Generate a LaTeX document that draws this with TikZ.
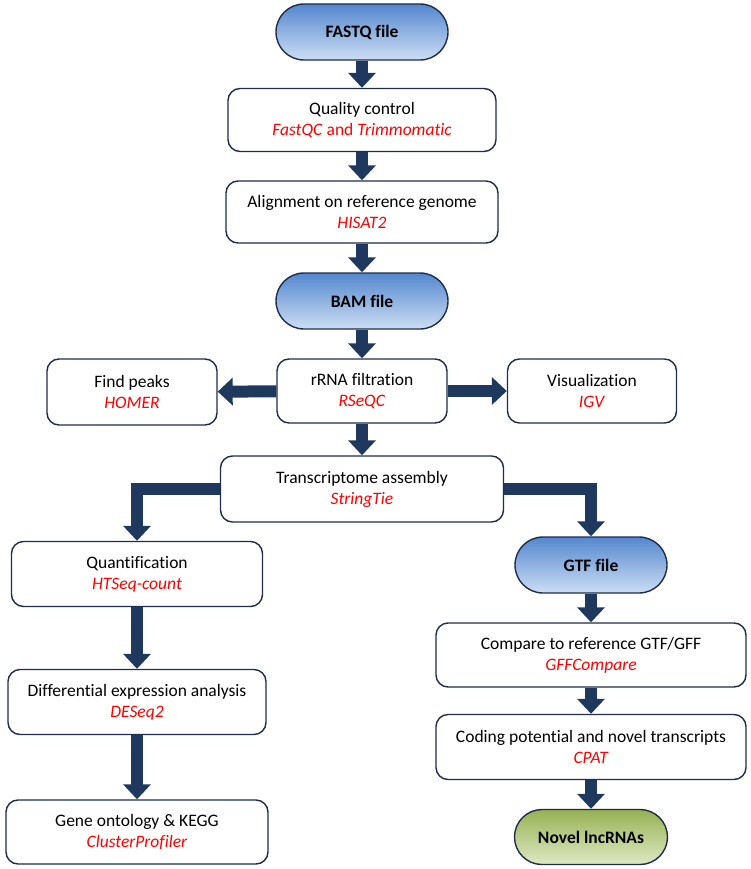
\documentclass[tikz,border=0pt]{standalone}
\usepackage{fontspec}
\setmainfont{Carlito}[Ligatures=NoCommon]
\usetikzlibrary{arrows.meta}
\definecolor{navy}{RGB}{31,56,94}
\definecolor{edge}{RGB}{30,45,75}
\definecolor{pilltop}{RGB}{84,135,206}
\definecolor{pillbot}{RGB}{205,222,244}
\definecolor{greentop}{RGB}{150,178,82}
\definecolor{greenbot}{RGB}{222,232,196}
\definecolor{tool}{RGB}{255,0,0}
\newcommand{\tool}[1]{\textcolor{tool}{\textit{#1}}}
\tikzstyle{task} = [rectangle, rounded corners=12pt, draw=edge, line width=1.4pt, fill=white, align=center, minimum height=64pt, font=\fontsize{17.5}{21}\selectfont]
\tikzstyle{file} = [rectangle, rounded corners=28pt, draw=edge, line width=1.4pt, top color=pilltop, bottom color=pillbot, minimum width=172pt, minimum height=56pt, font=\fontsize{17.5}{21}\selectfont\bfseries]
\tikzstyle{result} = [file, top color=greentop, bottom color=greenbot]
\tikzstyle{arrow} = [line width=12pt, draw=navy, line join=miter, -{Triangle[width=27pt,length=15pt]}]

\begin{document}
\begin{tikzpicture}[x=1pt, y=-1pt]
	\useasboundingbox (0,0) rectangle (751,869);
	% main column
	\node (fastq) [file] at (362,32) {FASTQ file};
	\node (quality) [task, minimum width=268pt, minimum height=63pt] at (362,120) {Quality control\\ \textcolor{tool}{\textit{FastQC} and \textit{Trimmomatic}}};
	\node (align) [task, minimum width=272pt, minimum height=62pt] at (362,212) {Alignment on reference genome\\ \tool{HISAT2}};
	\node (bam) [file] at (362,301) {BAM file};
	\node (rrna) [task, minimum width=170pt] at (362,391) {rRNA filtration\\ \tool{RSeQC}};
	\node (peaks) [task, minimum width=170pt, minimum height=66pt] at (132,392) {Find peaks\\ \tool{HOMER}};
	\node (vis) [task, minimum width=169pt] at (592,391) {Visualization\\ \tool{IGV}};
	\node (trans) [task, minimum width=283pt, minimum height=66pt] at (362,489) {Transcriptome assembly\\ \tool{StringTie}};
	% left branch
	\node (quant) [task, minimum width=251pt, minimum height=65pt] at (137,574) {Quantification\\ \tool{HTSeq-count}};
	\node (diff) [task, minimum width=258pt, minimum height=65pt] at (137,702) {Differential expression analysis\\ \tool{DESeq2}};
	\node (gene) [task, minimum width=262pt] at (137,832) {Gene ontology \& KEGG\\ \tool{ClusterProfiler}};
	% right branch
	\node (gtf) [file, minimum width=152pt] at (591,565) {GTF file};
	\node (compare) [task, minimum width=310pt] at (591,655) {Compare to reference GTF/GFF\\ \tool{GFFCompare}};
	\node (coding) [task, minimum width=310pt, minimum height=65pt] at (591,747) {Coding potential and novel transcripts\\ \tool{CPAT}};
	\node (novel) [result, minimum width=153pt, minimum height=55pt, rounded corners=27.5pt] at (591,837) {Novel lncRNAs};

	\draw [arrow] (fastq) -- (quality);
	\draw [arrow] (quality) -- (align);
	\draw [arrow] (align) -- (bam);
	\draw [arrow] (bam) -- (rrna);
	\draw [arrow] (rrna) -- (peaks);
	\draw [arrow] (rrna) -- (vis);
	\draw [arrow] (rrna) -- (trans);
	\draw [arrow] (trans.west) -| (quant.north);
	\draw [arrow] (trans.east) -| (gtf.north);
	\draw [arrow] (quant) -- (diff);
	\draw [arrow] (diff) -- (gene);
	\draw [arrow] (gtf) -- (compare);
	\draw [arrow] (compare) -- (coding);
	\draw [arrow] (coding) -- (novel);
\end{tikzpicture}
\end{document}
